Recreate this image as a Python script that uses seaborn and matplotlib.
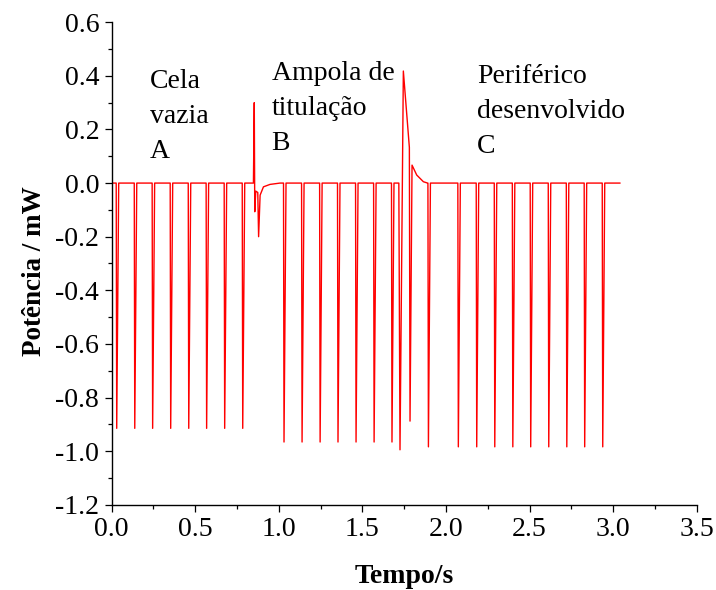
import numpy as np
import pandas as pd
import matplotlib
matplotlib.use("Agg")
import matplotlib.pyplot as plt
from matplotlib.ticker import MultipleLocator
import seaborn as sns

# ---------------- data ----------------
# injection spikes: time (s) and minimum power (mW)
spikes_A_t = [0.030, 0.138, 0.245, 0.353, 0.461, 0.568, 0.676, 0.784]
spikes_A_p = [-0.915, -0.915, -0.915, -0.915, -0.915, -0.915, -0.915, -0.915]

spikes_B_t = [1.031, 1.139, 1.247, 1.354, 1.462, 1.570, 1.677]
spikes_B_p = [-0.966, -0.966, -0.966, -0.966, -0.966, -0.966, -0.966]

spikes_C_t = [1.895, 2.074, 2.184, 2.292, 2.400, 2.507, 2.615, 2.723, 2.830, 2.938]
spikes_C_p = [-0.984, -0.984, -0.984, -0.984, -0.984, -0.984, -0.984, -0.984, -0.984, -0.984]

# event between A and B (ampola)
event1_t = [0.848, 0.853, 0.856, 0.862, 0.874, 0.879, 0.888, 0.908, 0.947, 1.007]
event1_p = [0.000, 0.300, -0.107, -0.030, -0.035, -0.200, -0.045, -0.014, -0.005, 0.000]

# event between B and C (large exothermic peak)
event2_t = [1.718, 1.725, 1.745, 1.781, 1.785, 1.797, 1.825, 1.865, 1.890]
event2_p = [0.000, -0.995, 0.418, 0.133, -0.888, 0.067, 0.030, 0.005, 0.000]

t_start, t_end = 0.005, 3.042

x_ticks = [0.0, 0.5, 1.0, 1.5, 2.0, 2.5, 3.0, 3.5]
y_ticks = [-1.2, -1.0, -0.8, -0.6, -0.4, -0.2, 0.0, 0.2, 0.4, 0.6]

labels_txt = [["Cela", "vazia", "A"],
              ["Ampola de", "titulação", "B"],
              ["Periférico", "desenvolvido", "C"]]
labels_x = [0.229, 0.957, 2.184]
labels_y0 = [0.354, 0.384, 0.373]

# ---------------- build the trace ----------------
pts = [(t_start, 0.0)]
def add_spike(t, p):
    pts.extend([(t - 0.003, 0.0), (t, p), (t + 0.012, 0.0)])

for t, p in zip(spikes_A_t, spikes_A_p):
    add_spike(t, p)
pts.extend(zip(event1_t, event1_p))
for t, p in zip(spikes_B_t, spikes_B_p):
    add_spike(t, p)
pts.extend(zip(event2_t, event2_p))
for t, p in zip(spikes_C_t, spikes_C_p):
    add_spike(t, p)
pts.append((t_end, 0.0))

df = pd.DataFrame(pts, columns=["Tempo", "Potencia"])

# ---------------- plot ----------------
sns.set_style("ticks")
plt.rcParams["font.family"] = ["Liberation Serif", "DejaVu Serif"]
plt.rcParams["axes.unicode_minus"] = False
plt.rcParams["text.color"] = "black"
plt.rcParams["axes.labelcolor"] = "black"

fig = plt.figure(figsize=(7.16, 5.90), dpi=100)
ax = fig.add_axes([0.156, 0.1445, 0.817, 0.8178])

sns.lineplot(data=df, x="Tempo", y="Potencia", sort=False, estimator=None,
             color="#ff0000", linewidth=1.0, ax=ax)

ax.set_xlim(0, 3.5)
ax.set_ylim(-1.2, 0.6)
ax.set_xticks(x_ticks)
ax.set_yticks(y_ticks)
ax.set_xticklabels([f"{v:.1f}" for v in x_ticks])
ax.set_yticklabels([f"{v:.1f}" for v in y_ticks])
ax.xaxis.set_minor_locator(MultipleLocator(0.25))
ax.yaxis.set_minor_locator(MultipleLocator(0.1))
ax.tick_params(which="major", direction="out", length=5, width=0.9,
               labelsize=20, pad=4, colors="black")
ax.tick_params(which="minor", direction="out", length=2.6, width=0.9,
               colors="black")
for s in ["top", "right"]:
    ax.spines[s].set_visible(False)
for s in ["left", "bottom"]:
    ax.spines[s].set_linewidth(1.0)
    ax.spines[s].set_color("black")

ax.set_xlabel("Tempo/s", fontsize=20, fontweight="bold", color="black",
              labelpad=16)
ax.set_ylabel("Potência / mW", fontsize=19.5, fontweight="bold", color="black")
ax.yaxis.set_label_coords(-0.111, 0.484)

line_gap = 0.13
for lines, lx, ly in zip(labels_txt, labels_x, labels_y0):
    for i, s in enumerate(lines):
        ax.text(lx, ly - i * line_gap, s, fontsize=20, ha="left",
                va="baseline", color="black")

fig.savefig("out.png", dpi=100)
